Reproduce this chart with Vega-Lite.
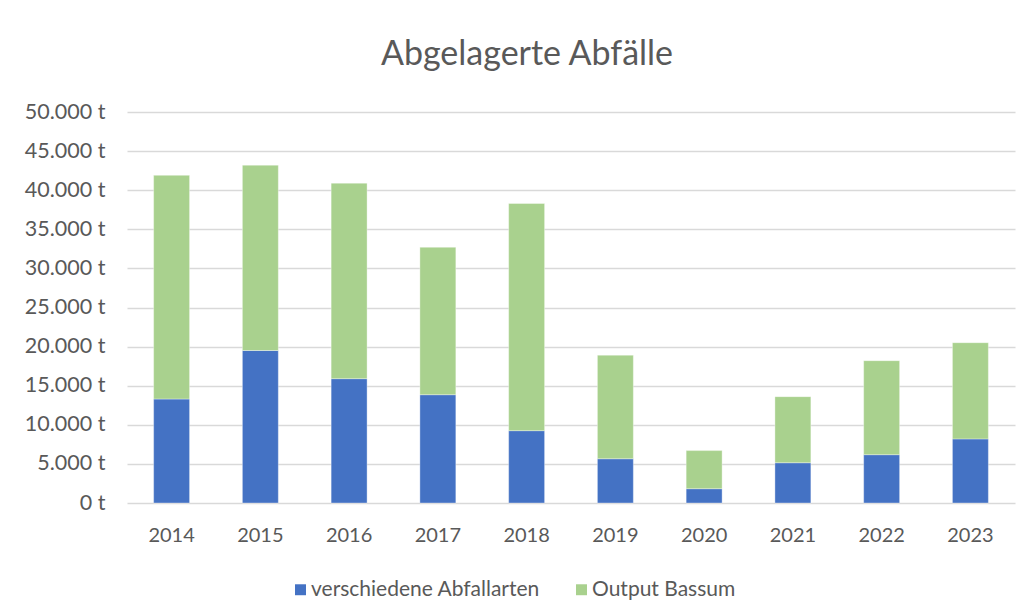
{
  "$schema": "https://vega.github.io/schema/vega-lite/v6.json",
  "width": 888,
  "height": 391,
  "autosize": {"type": "none"},
  "padding": {"left": 127, "top": 112, "right": 12, "bottom": 112},
  "background": "white",
  "title": {
    "text": "Abgelagerte Abfälle",
    "font": "Lato",
    "fontSize": 34,
    "fontWeight": "normal",
    "color": "#595959",
    "anchor": "middle",
    "dx": -44,
    "offset": 29
  },
  "data": {
    "values": [
      {"Jahr": "2014", "Art": "verschiedene Abfallarten", "o": 1, "Menge": 13300},
      {"Jahr": "2014", "Art": "Output Bassum", "o": 2, "Menge": 28600},
      {"Jahr": "2015", "Art": "verschiedene Abfallarten", "o": 1, "Menge": 19500},
      {"Jahr": "2015", "Art": "Output Bassum", "o": 2, "Menge": 23700},
      {"Jahr": "2016", "Art": "verschiedene Abfallarten", "o": 1, "Menge": 15900},
      {"Jahr": "2016", "Art": "Output Bassum", "o": 2, "Menge": 25000},
      {"Jahr": "2017", "Art": "verschiedene Abfallarten", "o": 1, "Menge": 13850},
      {"Jahr": "2017", "Art": "Output Bassum", "o": 2, "Menge": 18850},
      {"Jahr": "2018", "Art": "verschiedene Abfallarten", "o": 1, "Menge": 9250},
      {"Jahr": "2018", "Art": "Output Bassum", "o": 2, "Menge": 29050},
      {"Jahr": "2019", "Art": "verschiedene Abfallarten", "o": 1, "Menge": 5660},
      {"Jahr": "2019", "Art": "Output Bassum", "o": 2, "Menge": 13240},
      {"Jahr": "2020", "Art": "verschiedene Abfallarten", "o": 1, "Menge": 1830},
      {"Jahr": "2020", "Art": "Output Bassum", "o": 2, "Menge": 4870},
      {"Jahr": "2021", "Art": "verschiedene Abfallarten", "o": 1, "Menge": 5150},
      {"Jahr": "2021", "Art": "Output Bassum", "o": 2, "Menge": 8450},
      {"Jahr": "2022", "Art": "verschiedene Abfallarten", "o": 1, "Menge": 6180},
      {"Jahr": "2022", "Art": "Output Bassum", "o": 2, "Menge": 12020},
      {"Jahr": "2023", "Art": "verschiedene Abfallarten", "o": 1, "Menge": 8200},
      {"Jahr": "2023", "Art": "Output Bassum", "o": 2, "Menge": 12300}
    ]
  },
  "mark": {"type": "bar", "stroke": "white", "strokeWidth": 0.6, "strokeOpacity": 0.6},
  "encoding": {
    "x": {
      "field": "Jahr",
      "type": "ordinal",
      "scale": {"paddingInner": 0.595, "paddingOuter": 0.3},
      "axis": {
        "title": null,
        "labelAngle": 0,
        "labelFont": "Lato",
        "labelFontSize": 20,
        "labelColor": "#595959",
        "labelPadding": 22,
        "ticks": false,
        "domain": false
      }
    },
    "y": {
      "field": "Menge",
      "type": "quantitative",
      "stack": "zero",
      "scale": {"domain": [0, 50000], "nice": false},
      "axis": {
        "title": null,
        "values": [0, 5000, 10000, 15000, 20000, 25000, 30000, 35000, 40000, 45000, 50000],
        "labelExpr": "replace(format(datum.value, ',.0f'), ',', '.') + ' t'",
        "labelFont": "Lato",
        "labelFontSize": 21.5,
        "labelColor": "#595959",
        "labelPadding": 22,
        "ticks": false,
        "domain": false,
        "grid": true,
        "gridColor": "#d9d9d9",
        "gridWidth": 1.3
      }
    },
    "color": {
      "field": "Art",
      "type": "nominal",
      "scale": {
        "domain": ["verschiedene Abfallarten", "Output Bassum"],
        "range": ["#4472C4", "#A9D18E"]
      },
      "legend": {
        "title": null,
        "orient": "none",
        "legendX": 163,
        "legendY": 467,
        "direction": "horizontal",
        "symbolType": "square",
        "symbolSize": 120,
        "symbolStrokeWidth": 0,
        "labelFont": "Lato",
        "labelFontSize": 21,
        "labelLimit": 500,
        "labelColor": "#595959",
        "labelOffset": 0,
        "columnPadding": 31
      }
    },
    "order": {"field": "o", "type": "quantitative", "sort": "ascending"}
  },
  "config": {
    "view": {"stroke": null},
    "axis": {"gridOpacity": 1}
  }
}
